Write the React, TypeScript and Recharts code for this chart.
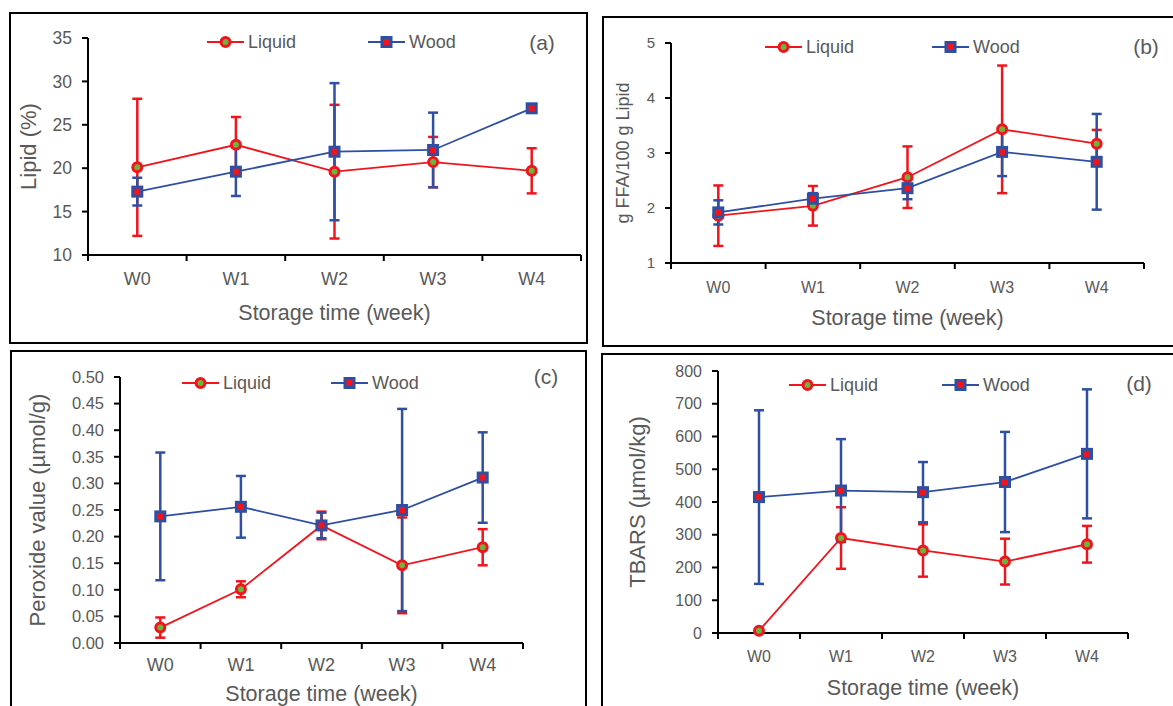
import { ErrorBar, Legend, Line, LineChart, XAxis, YAxis } from 'recharts'

const weeks = ['W0', 'W1', 'W2', 'W3', 'W4']
// category centres sit on 0..4, the half steps are the band edges (Excel style tick marks)
const xTicks = [-0.5, 0, 0.5, 1, 1.5, 2, 2.5, 3, 3.5, 4, 4.5]

// (a) lipid, %
const lipidLiquid = [20.1, 22.7, 19.6, 20.7, 19.7]
const lipidLiquidSd = [7.9, 3.2, 7.7, 2.9, 2.6]
const lipidWood = [17.3, 19.6, 21.9, 22.1, 26.9]
const lipidWoodSd = [1.6, 2.8, 7.9, 4.3, 0]
const lipidTicks = [10, 15, 20, 25, 30, 35]

// (b) free fatty acids, g FFA / 100 g lipid
const ffaLiquid = [1.86, 2.04, 2.56, 3.43, 3.17]
const ffaLiquidSd = [0.55, 0.36, 0.56, 1.16, 0.25]
const ffaWood = [1.92, 2.17, 2.36, 3.02, 2.84]
const ffaWoodSd = [0.22, 0.1, 0.2, 0.44, 0.87]
const ffaTicks = [1, 2, 3, 4, 5]

// (c) peroxide value, µmol/g
const pvLiquid = [0.029, 0.101, 0.221, 0.146, 0.18]
const pvLiquidSd = [0.019, 0.015, 0.026, 0.09, 0.034]
const pvWood = [0.238, 0.256, 0.221, 0.25, 0.311]
const pvWoodSd = [0.12, 0.058, 0.024, 0.19, 0.085]
const pvTicks = [0, 0.05, 0.1, 0.15, 0.2, 0.25, 0.3, 0.35, 0.4, 0.45, 0.5]

// (d) TBARS, µmol/kg
const tbarsLiquid = [7, 290, 252, 218, 271]
const tbarsLiquidSd = [0, 94, 80, 70, 56]
const tbarsWood = [415, 435, 430, 461, 547]
const tbarsWoodSd = [265, 157, 92, 153, 197]
const tbarsTicks = [0, 100, 200, 300, 400, 500, 600, 700, 800]

const RED = '#F2141C'
const BLUE = '#2F4FA2'
const GREEN = '#6CB33F'
const GREY = '#595959'
const FONT = '"Liberation Sans", Arial, sans-serif'

function rows(liquid: number[], liquidSd: number[], wood: number[], woodSd: number[]) {
  return weeks.map((w, i) => ({
    week: w,
    idx: i,
    liquid: liquid[i],
    liquidSd: liquidSd[i],
    wood: wood[i],
    woodSd: woodSd[i],
  }))
}

function WeekTick(props: any) {
  const { x, y, payload, labelSize, labelDy } = props
  const v = payload.value
  if (Number.isInteger(v)) {
    return (
      <text x={x} y={y + labelDy} textAnchor="middle" dominantBaseline="central" fill={GREY} fontSize={labelSize} fontFamily={FONT}>
        {weeks[v]}
      </text>
    )
  }
  return <line x1={x} x2={x} y1={y} y2={y + 6} stroke="#000" strokeWidth={2} />
}

function Swatch({ kind }: { kind: 'liquid' | 'wood' }) {
  const c = kind === 'liquid' ? RED : BLUE
  return (
    <svg width={37} height={16} style={{ display: 'block' }}>
      <line x1={0} x2={37} y1={8} y2={8} stroke={c} strokeWidth={1.8} />
      {kind === 'liquid' ? (
        <circle cx={18.5} cy={8} r={4.5} fill={GREEN} stroke={RED} strokeWidth={3} />
      ) : (
        <rect x={14} y={3.5} width={9} height={9} fill={RED} stroke={BLUE} strokeWidth={3} />
      )}
    </svg>
  )
}

type Panel = {
  data: ReturnType<typeof rows>
  plot: { l: number; t: number; r: number; b: number }
  yAxisW: number
  yTicks: number[]
  yFmt?: (v: number) => string
  tickSize: number
  weekSize: number
  weekDy: number
  yTitle: string
  yTitleX: number
  yTitleSize: number
  xTitleDy: number
  legendY: number
  legendX: [number, number]
  letter: string
  letterX: number
  letterY: number
}

function PanelChart(p: Panel) {
  const left = p.plot.l - p.yAxisW
  const top = p.plot.t - 10
  const width = p.yAxisW + (p.plot.r - p.plot.l) + 10
  const height = 10 + (p.plot.b - p.plot.t) + 70
  const yDomain = [p.yTicks[0], p.yTicks[p.yTicks.length - 1]]

  const legend = () => (
    <div style={{ position: 'relative', height: 24, fontFamily: FONT, color: GREY, fontSize: 18 }}>
      {(['liquid', 'wood'] as const).map((k, i) => (
        <div key={k} style={{ position: 'absolute', left: p.legendX[i] - left, top: 0, height: 24, display: 'flex', alignItems: 'center', gap: 4 }}>
          <Swatch kind={k} />
          <span>{k === 'liquid' ? 'Liquid' : 'Wood'}</span>
        </div>
      ))}
      <span style={{ position: 'absolute', left: p.letterX - left, top: p.letterY - p.legendY, height: 24, lineHeight: '24px', fontSize: 21, transform: 'translateX(-50%)' }}>
        {p.letter}
      </span>
    </div>
  )

  return (
    <div style={{ position: 'absolute', left, top }}>
      <LineChart width={width} height={height} data={p.data} margin={{ top: 10, right: 10, bottom: 0, left: 0 }}>
        <XAxis
          dataKey="idx"
          type="number"
          domain={[-0.5, 4.5]}
          ticks={xTicks}
          interval={0}
          height={70}
          tickSize={0}
          tickMargin={0}
          tickLine={false}
          axisLine={{ stroke: '#000', strokeWidth: 2 }}
          tick={<WeekTick labelSize={p.weekSize} labelDy={p.weekDy} />}
          label={({ viewBox }: any) => (
            <text
              x={viewBox.x + viewBox.width / 2}
              y={viewBox.y + p.xTitleDy}
              textAnchor="middle"
              dominantBaseline="central"
              fill={GREY}
              fontSize={21.5}
              fontFamily={FONT}
            >
              Storage time (week)
            </text>
          )}
        />
        <YAxis
          type="number"
          width={p.yAxisW}
          domain={yDomain}
          ticks={p.yTicks}
          interval={0}
          tickFormatter={p.yFmt}
          tickSize={6}
          tickMargin={10}
          tick={{ fill: GREY, fontSize: p.tickSize, fontFamily: FONT }}
          tickLine={{ stroke: '#000', strokeWidth: 2 }}
          axisLine={{ stroke: '#000', strokeWidth: 2 }}
          label={({ viewBox }: any) => {
            const cx = viewBox.x + (p.yTitleX - left)
            const cy = viewBox.y + viewBox.height / 2
            return (
              <text
                x={cx}
                y={cy}
                transform={`rotate(-90 ${cx} ${cy})`}
                textAnchor="middle"
                dominantBaseline="central"
                fill={GREY}
                fontSize={p.yTitleSize}
                fontFamily={FONT}
              >
                {p.yTitle}
              </text>
            )
          }}
        />
        <Legend
          verticalAlign="middle"
          align="center"
          layout="horizontal"
          wrapperStyle={{ left: 0, top: p.legendY - top - 12, width, height: 24 }}
          content={legend}
        />
        <Line
          dataKey="liquid"
          type="linear"
          stroke={RED}
          strokeWidth={1.8}
          isAnimationActive={false}
          dot={(d: any) => <circle key={`l${d.index}`} cx={d.cx} cy={d.cy} r={4.5} fill={GREEN} stroke={RED} strokeWidth={3} />}
        >
          <ErrorBar dataKey="liquidSd" direction="y" width={5} stroke={RED} strokeWidth={2.5} isAnimationActive={false} />
        </Line>
        <Line
          dataKey="wood"
          type="linear"
          stroke={BLUE}
          strokeWidth={1.8}
          isAnimationActive={false}
          dot={(d: any) => (
            <rect key={`w${d.index}`} x={d.cx - 4.5} y={d.cy - 4.5} width={9} height={9} fill={RED} stroke={BLUE} strokeWidth={3} />
          )}
        >
          <ErrorBar dataKey="woodSd" direction="y" width={5} stroke={BLUE} strokeWidth={2.5} isAnimationActive={false} />
        </Line>
      </LineChart>
    </div>
  )
}

const frame = (left: number, top: number, width: number, height: number) => (
  <div
    style={{
      position: 'absolute',
      left,
      top,
      width,
      height,
      border: '2.5px solid #000',
      boxSizing: 'border-box',
    }}
  />
)

export default function App() {
  return (
    <div style={{ position: 'absolute', left: 0, top: 0, width: 1173, height: 706, overflow: 'hidden', background: '#fff', fontFamily: FONT }}>
      {frame(9, 12, 579, 332)}
      {frame(602, 16, 620, 331)}
      {frame(10, 350, 577, 400)}
      {frame(601, 353, 620, 400)}

      <PanelChart
        data={rows(lipidLiquid, lipidLiquidSd, lipidWood, lipidWoodSd)}
        plot={{ l: 88, t: 38, r: 581, b: 255 }}
        yAxisW={80}
        yTicks={lipidTicks}
        tickSize={17.5}
        weekSize={18}
        weekDy={24}
        yTitle="Lipid (%)"
        yTitleX={28}
        yTitleSize={22}
        xTitleDy={58}
        legendY={42}
        legendX={[207, 368]}
        letter="(a)"
        letterX={542}
        letterY={43}
      />
      <PanelChart
        data={rows(ffaLiquid, ffaLiquidSd, ffaWood, ffaWoodSd)}
        plot={{ l: 671, t: 43, r: 1144, b: 263 }}
        yAxisW={80}
        yTicks={ffaTicks}
        tickSize={15}
        weekSize={16}
        weekDy={24}
        yTitle="g FFA/100 g Lipid"
        yTitleX={623}
        yTitleSize={18}
        xTitleDy={55}
        legendY={47}
        legendX={[765, 932]}
        letter="(b)"
        letterX={1146}
        letterY={47}
      />
      <PanelChart
        data={rows(pvLiquid, pvLiquidSd, pvWood, pvWoodSd)}
        plot={{ l: 120, t: 377, r: 523, b: 643 }}
        yAxisW={110}
        yTicks={pvTicks}
        yFmt={(v) => v.toFixed(2)}
        tickSize={16.5}
        weekSize={18}
        weekDy={22}
        yTitle="Peroxide value (µmol/g)"
        yTitleX={37}
        yTitleSize={22}
        xTitleDy={51}
        legendY={383}
        legendX={[182, 331]}
        letter="(c)"
        letterX={546}
        letterY={377}
      />
      <PanelChart
        data={rows(tbarsLiquid, tbarsLiquidSd, tbarsWood, tbarsWoodSd)}
        plot={{ l: 718, t: 371, r: 1128, b: 633 }}
        yAxisW={110}
        yTicks={tbarsTicks}
        tickSize={16}
        weekSize={16}
        weekDy={23}
        yTitle="TBARS (µmol/kg)"
        yTitleX={637}
        yTitleSize={22}
        xTitleDy={55}
        legendY={385}
        legendX={[789, 942]}
        letter="(d)"
        letterX={1139}
        letterY={384}
      />
    </div>
  )
}
